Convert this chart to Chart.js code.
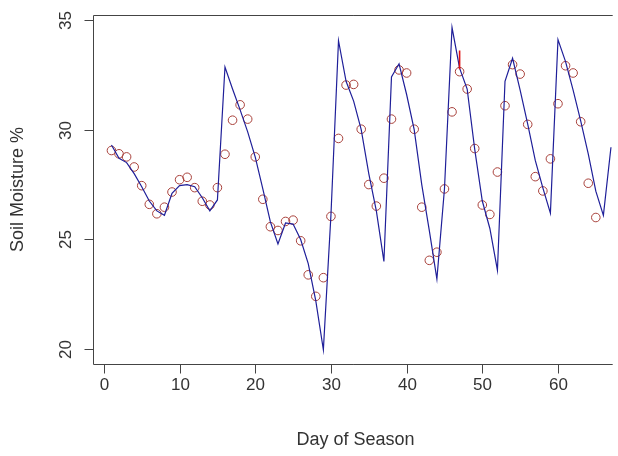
<!DOCTYPE html>
<html>
<head>
<meta charset="utf-8">
<script src="https://cdn.jsdelivr.net/npm/chart.js@4/dist/chart.umd.min.js"></script>
<style>
  html, body { margin: 0; padding: 0; background: #ffffff; }
  #wrap { width: 618px; height: 456px; }
</style>
</head>
<body>
<div id="wrap"><canvas id="c" width="618" height="456"></canvas></div>
<script>
// Observed soil moisture (%) by day of season
const obsDays = [1, 2, 3, 4, 5, 6, 7, 8, 9, 10, 11, 12, 13, 14, 15, 16, 17, 18, 19, 20,
  21, 22, 23, 24, 25, 26, 27, 28, 29, 30, 31, 32, 33, 34, 35, 36, 37, 38, 39, 40,
  41, 42, 43, 44, 45, 46, 47, 48, 49, 50, 51, 52, 53, 54, 55, 56, 57, 58, 59, 60,
  61, 62, 63, 64, 65];
const obsMoisture = [29.05, 28.9, 28.76, 28.3, 27.45, 26.6, 26.17, 26.47, 27.16, 27.72,
  27.83, 27.36, 26.74, 26.57, 27.36, 28.88, 30.43, 31.13, 30.48, 28.76,
  26.83, 25.58, 25.41, 25.82, 25.88, 24.94, 23.39, 22.41, 23.26, 26.05,
  29.6, 32.03, 32.06, 30.02, 27.5, 26.52, 27.79, 30.48, 32.72, 32.58,
  30.02, 26.47, 24.05, 24.42, 27.3, 30.81, 32.64, 31.85, 29.14, 26.57,
  26.14, 28.07, 31.09, 32.96, 32.53, 30.24, 27.86, 27.21, 28.67, 31.18,
  32.91, 32.58, 30.36, 27.56, 26.0];

// Modelled soil moisture (%) by day of season
const modelDays = [1, 2, 3, 4, 5, 6, 7, 8, 9, 10, 11, 12, 13, 14, 15, 16, 17, 18, 19, 20,
  21, 22, 23, 24, 25, 26, 27, 28, 29, 30, 31, 32, 33, 34, 35, 36, 37, 38, 39, 40,
  41, 42, 43, 44, 45, 46, 47, 48, 49, 50, 51, 52, 53, 54, 55, 56, 57, 58, 59, 60,
  61, 62, 63, 64, 65, 66, 67];
const modelMoisture = [29.3, 28.7, 28.5, 28.0, 27.4, 26.75, 26.3, 26.1, 27.1, 27.45,
  27.5, 27.4, 26.9, 26.3, 26.8, 32.85, 31.85, 30.9, 29.9, 28.75,
  27.3, 25.8, 24.8, 25.75, 25.7, 25.0, 23.9, 22.2, 19.98, 26.1,
  34.05, 32.2, 31.3, 30.0, 28.0, 26.3, 24.0, 32.4, 33.0, 31.6,
  30.0, 27.5, 25.4, 23.2, 27.3, 34.65, 32.8, 31.85, 29.1, 26.75,
  25.5, 23.6, 32.2, 33.25, 31.8, 30.25, 28.6, 27.35, 26.2, 34.1,
  33.1, 31.8, 30.4, 28.9, 27.2, 26.1, 29.2];

// Flagged reading on day 47
const flagDays = [47, 47];
const flagMoisture = [32.75, 33.6];

// Axis ticks
const xTickValues = [0, 10, 20, 30, 40, 50, 60];
const xTickLabels = ['0', '10', '20', '30', '40', '50', '60'];
const yTickValues = [20, 25, 30, 35];
const yTickLabels = ['20', '25', '30', '35'];

const xTitle = 'Day of Season';
const yTitle = 'Soil Moisture %';

const toPoints = (xs, ys) => xs.map((x, i) => ({ x: x, y: ys[i] }));

const TICK_FONT = '17px "Liberation Sans", Arial, sans-serif';
const TITLE_FONT = '18px "Liberation Sans", Arial, sans-serif';
const INK = '#333333';
const FRAME = '#444444';

// Box, ticks and labels drawn in base-graphics style
const frameAxes = {
  id: 'frameAxes',
  afterDraw(chart) {
    const { ctx, chartArea: a, scales: { x, y } } = chart;
    const L = Math.round(a.left) + 0.5;
    const T = Math.round(a.top) + 0.5;
    const B = Math.round(a.bottom) + 0.5;
    const R = a.right;
    ctx.save();
    ctx.strokeStyle = FRAME;
    ctx.lineWidth = 1;
    ctx.beginPath();
    ctx.moveTo(R, T); ctx.lineTo(L, T); ctx.lineTo(L, B); ctx.lineTo(R, B);
    ctx.stroke();

    ctx.font = TICK_FONT;
    ctx.fillStyle = INK;

    // x axis
    ctx.textAlign = 'center';
    ctx.textBaseline = 'middle';
    xTickValues.forEach((v, i) => {
      const px = Math.round(x.getPixelForValue(v)) + 0.5;
      ctx.beginPath(); ctx.moveTo(px, B); ctx.lineTo(px, B + 9); ctx.stroke();
      ctx.fillText(xTickLabels[i], px, B + 21);
    });

    // y axis (labels parallel to the axis)
    yTickValues.forEach((v, i) => {
      const py = Math.round(y.getPixelForValue(v)) + 0.5;
      ctx.beginPath(); ctx.moveTo(L - 9, py); ctx.lineTo(L, py); ctx.stroke();
      ctx.save();
      ctx.translate(L - 27, py);
      ctx.rotate(-Math.PI / 2);
      ctx.fillText(yTickLabels[i], 0, 0);
      ctx.restore();
    });

    // axis titles
    ctx.font = TITLE_FONT;
    ctx.fillText(xTitle, (a.left + 618) / 2, 440);
    ctx.save();
    ctx.translate(18, (a.top + a.bottom) / 2);
    ctx.rotate(-Math.PI / 2);
    ctx.fillText(yTitle, 0, 0);
    ctx.restore();
    ctx.restore();
  }
};

new Chart(document.getElementById('c'), {
  type: 'scatter',
  data: {
    datasets: [
      {
        label: 'Observed',
        data: toPoints(obsDays, obsMoisture),
        pointStyle: 'circle',
        pointRadius: 4.3,
        pointBorderWidth: 1,
        pointBorderColor: '#a8403a',
        pointBackgroundColor: 'rgba(0,0,0,0)',
        showLine: false,
        order: 2
      },
      {
        label: 'Model',
        type: 'line',
        data: toPoints(modelDays, modelMoisture),
        borderColor: '#1f1f99',
        borderWidth: 1.2,
        pointRadius: 0,
        tension: 0,
        fill: false,
        order: 1
      },
      {
        label: 'Flag',
        type: 'line',
        data: toPoints(flagDays, flagMoisture),
        borderColor: '#e01010',
        borderWidth: 1.6,
        pointRadius: 0,
        fill: false,
        order: 0
      }
    ]
  },
  options: {
    responsive: false,
    animation: false,
    devicePixelRatio: 1,
    layout: { padding: { left: 93, top: 15, right: 0, bottom: 92 } },
    scales: {
      x: { type: 'linear', display: false, min: -1.439, max: 67.23 },
      y: { type: 'linear', display: false, min: 19.33, max: 35.22 }
    },
    plugins: {
      legend: { display: false },
      tooltip: { enabled: false },
      title: { display: false }
    }
  },
  plugins: [frameAxes]
});
</script>
</body>
</html>
